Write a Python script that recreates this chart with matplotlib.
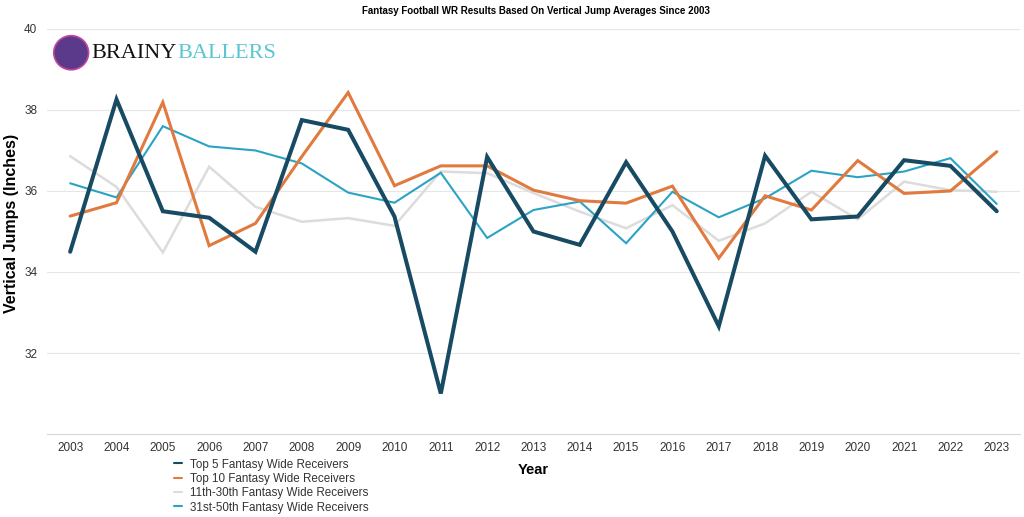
import matplotlib
matplotlib.use("Agg")
import matplotlib.pyplot as plt
from matplotlib.patches import Ellipse

plt.rcParams['font.family'] = ['Liberation Sans', 'DejaVu Sans']

years = list(range(2003, 2024))
top5 = [34.5, 38.26, 35.5, 35.34, 34.5, 37.75, 37.51, 35.37, 31.0, 36.84, 35.0,
        34.67, 36.71, 35.0, 32.66, 36.87, 35.3, 35.37, 36.76, 36.62, 35.5]
top10 = [35.38, 35.71, 38.19, 34.65, 35.2, 36.85, 38.43, 36.13, 36.62, 36.62, 36.02,
         35.76, 35.7, 36.12, 34.34, 35.88, 35.53, 36.75, 35.94, 36.0, 36.97]
r11_30 = [36.86, 36.1, 34.48, 36.6, 35.61, 35.24, 35.33, 35.14, 36.48, 36.44, 35.95,
          35.49, 35.08, 35.65, 34.77, 35.2, 35.98, 35.3, 36.23, 36.02, 35.98]
r31_50 = [36.19, 35.84, 37.6, 37.1, 37.0, 36.68, 35.96, 35.71, 36.45, 34.84, 35.53,
          35.74, 34.71, 35.98, 35.35, 35.82, 36.5, 36.34, 36.48, 36.81, 35.68]
series_names = ["Top 5 Fantasy Wide Receivers", "Top 10 Fantasy Wide Receivers",
                "11th-30th Fantasy Wide Receivers", "31st-50th Fantasy Wide Receivers"]
yticks = [32, 34, 36, 38, 40]

fig = plt.figure(figsize=(10.24, 5.17), dpi=100)
ax = fig.add_axes([0.0459, 0.1605, 0.9501, 0.7835])

styles = [("#174A63", 2.9), ("#E07A3F", 2.2), ("#DCDCDC", 1.8), ("#2BA3C4", 1.5)]
data = [top5, top10, r11_30, r31_50]
zorders = [5, 4, 2, 3]
for vals, (c, lw), name, z in zip(data, styles, series_names, zorders):
    ax.plot(years, vals, color=c, lw=lw, label=name, zorder=z,
            solid_joinstyle='miter', solid_capstyle='round')

ax.set_xlim(2002.5, 2023.5)
ax.set_ylim(30, 40)
ax.set_xticks(years)
ax.set_xticklabels([str(y) for y in years], fontsize=8.5, color="#333333")
ax.set_yticks(yticks)
ax.set_yticklabels([str(t) for t in yticks], fontsize=8.5, color="#333333")
ax.tick_params(axis='both', length=0)
ax.tick_params(axis='y', pad=7)
ax.tick_params(axis='x', pad=6)
ax.grid(axis='y', color="#E6E6E6", lw=0.8)
ax.set_axisbelow(True)
for s in ['top', 'right', 'left']:
    ax.spines[s].set_visible(False)
ax.spines['bottom'].set_color("#D8D8D8")
ax.spines['bottom'].set_linewidth(0.8)

ax.set_xlabel("Year", fontsize=10.5, fontweight='bold', labelpad=6)
fig.text(0.0115, 0.567, "Vertical Jumps (Inches)", rotation=90, ha='center', va='center',
         fontsize=11.5, fontweight='bold')

fig.text(0.523, 0.978, "Fantasy Football WR Results Based On Vertical Jump Averages Since 2003",
         ha='center', va='center', fontsize=7, fontweight='bold')

leg = fig.legend(loc='upper left', bbox_to_anchor=(0.170, 0.113), frameon=False,
                 fontsize=8.4, handlelength=0.7, handletextpad=0.7, labelspacing=0.2,
                 borderaxespad=0, borderpad=0)
for text in leg.get_texts():
    text.set_color("#333333")
for line in leg.get_lines():
    line.set_linewidth(1.5)

# logo
fig.patches.append(Ellipse((0.0695, 0.898), 0.034, 0.066, transform=fig.transFigure,
                           facecolor="#5B3A8C", edgecolor="#C2479B", lw=1.2, figure=fig))
t1 = fig.text(0.089, 0.897, "BRAINY", fontsize=16, family='Liberation Serif', color="#111111",
              ha='left', va='center')
fig.canvas.draw()
bb = t1.get_window_extent()
fig.text(bb.x1 / fig.bbox.width + 0.001, 0.897, "BALLERS", fontsize=16, family='Liberation Serif',
         color="#5BC5D3", ha='left', va='center')

fig.savefig("out.png", dpi=100, facecolor='white')
